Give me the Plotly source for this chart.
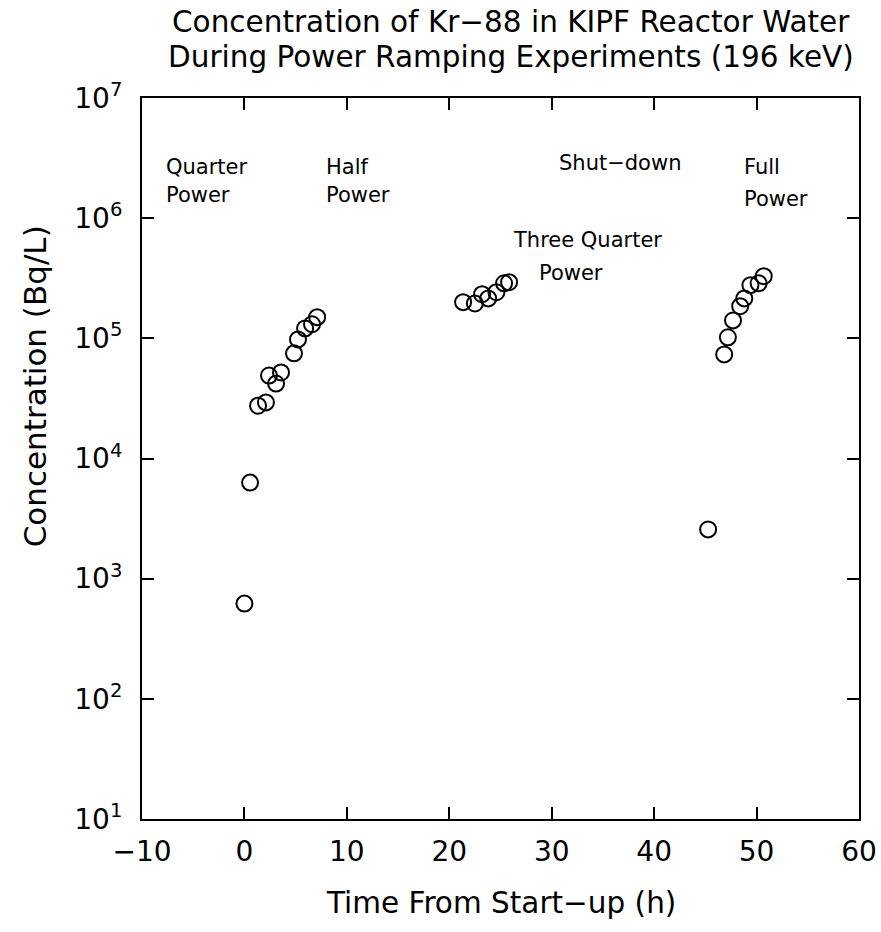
import math
import plotly.graph_objects as go

# Data
time_h = [0.0, 0.55, 1.33, 2.1, 2.4, 3.57, 3.09, 4.84, 5.23, 5.92, 6.6, 7.1,
          21.35, 22.5, 23.2, 23.8, 24.6, 25.35, 25.84,
          45.27, 46.84, 47.2, 47.7, 48.4, 48.8, 49.4, 50.2, 50.7]
conc_bq_l = [620, 6300, 27500, 29300, 49000, 52000, 42000, 75000, 98000, 121000, 131000, 150000,
             200000, 195000, 233000, 215000, 242000, 287000, 293000,
             2570, 73500, 102000, 141000, 185000, 215000, 277000, 287000, 329000]

# Phase labels, one entry per text line (x in hours, y in Bq/L)
label_text = ["Quarter", "Power", "Half", "Power", "Shut\u2212down",
              "Full", "Power", "Three Quarter", "Power"]
label_x = [-7.85, -7.85, 7.77, 7.77, 30.53, 48.59, 48.59, 26.03, 28.57]
label_y = [2.66e6, 1.56e6, 2.66e6, 1.56e6, 2.87e6, 2.66e6, 1.44e6, 6.56e5, 3.48e5]

x_ticks = [-10, 0, 10, 20, 30, 40, 50, 60]
y_exps = [1, 2, 3, 4, 5, 6, 7]

title_lines = ["Concentration of Kr\u221288 in KIPF Reactor Water",
               "During Power Ramping Experiments (196 keV)"]
x_title = "Time From Start\u2212up (h)"
y_title = "Concentration (Bq/L)"

FONT = "DejaVu Sans"

fig = go.Figure()
fig.add_trace(go.Scatter(
    x=time_h, y=conc_bq_l, mode="markers",
    marker=dict(symbol="circle-open", size=16, color="black", line=dict(width=2, color="black")),
    showlegend=False, hoverinfo="skip"))

for t, xx, yy in zip(label_text, label_x, label_y):
    fig.add_annotation(x=xx, y=math.log10(yy), yref="y", xref="x", text=t, showarrow=False,
                       xanchor="left", yanchor="middle", align="left",
                       font=dict(family=FONT, size=21, color="black"))

for t, yy in zip(title_lines, [1.1054, 1.0569]):
    fig.add_annotation(x=0.515, y=yy, xref="paper", yref="paper", text=t, showarrow=False,
                       xanchor="center", yanchor="middle",
                       font=dict(family=FONT, size=29.5, color="black"))

fig.add_annotation(x=0.5, y=-0.1165, xref="paper", yref="paper", text=x_title, showarrow=False,
                   xanchor="center", yanchor="middle", font=dict(family=FONT, size=29.5, color="black"))
fig.add_annotation(x=-0.148, y=0.6, xref="paper", yref="paper", text=y_title, showarrow=False,
                   textangle=-90, xanchor="center", yanchor="middle",
                   font=dict(family=FONT, size=31, color="black"))

fig.update_layout(
    width=881, height=932,
    margin=dict(l=142, r=22, t=98, b=113),
    paper_bgcolor="white", plot_bgcolor="white",
    font=dict(family=FONT, color="black"),
    showlegend=False,
)
fig.update_xaxes(
    range=[-10, 60], tickvals=x_ticks, ticks="inside", ticklen=12, tickwidth=1.5,
    tickcolor="black", showline=True, linecolor="black", linewidth=2, mirror="ticks",
    showgrid=False, zeroline=False, tickfont=dict(family=FONT, size=28),
    ticklabelstandoff=6, automargin=False)
fig.update_yaxes(
    type="log", range=[1, 7], tickvals=[10 ** e for e in y_exps],
    ticktext=["10<sup>%d</sup>" % e for e in y_exps],
    ticks="inside", ticklen=12, tickwidth=1.5, tickcolor="black",
    showline=True, linecolor="black", linewidth=2, mirror="ticks",
    showgrid=False, zeroline=False, tickfont=dict(family=FONT, size=28),
    ticklabelstandoff=12, automargin=False)

fig.write_html("out.html")
